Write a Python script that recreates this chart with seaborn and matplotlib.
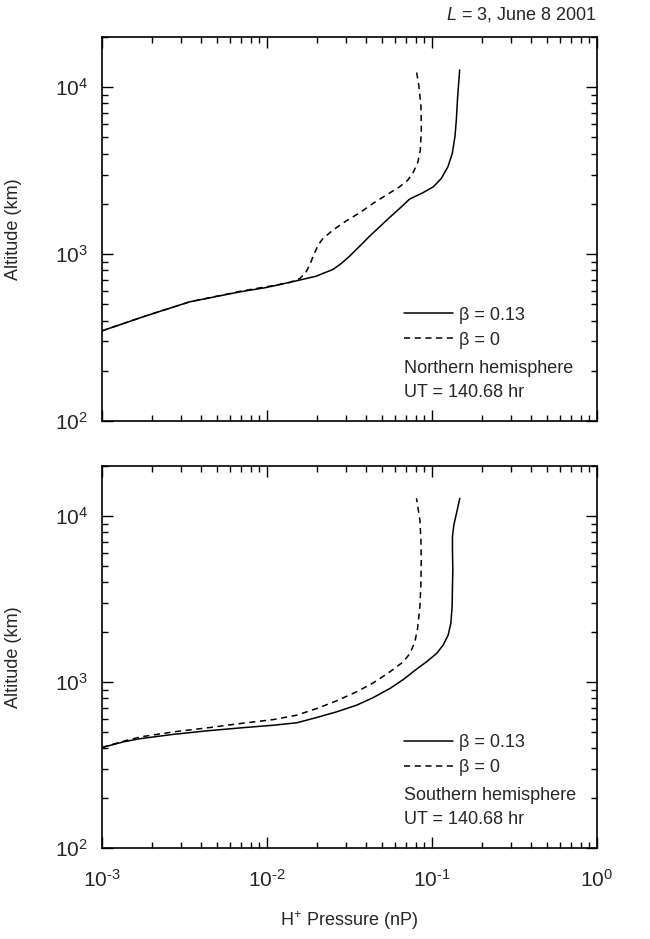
import matplotlib
matplotlib.use("Agg")
import matplotlib.pyplot as plt
import matplotlib.ticker as mticker
import numpy as np
import seaborn as sns
import pandas as pd

# Northern hemisphere (top panel)
north_p_beta013 = [0.00100, 0.00177, 0.00340, 0.00683, 0.00990, 0.01507, 0.0199, 0.0218, 0.0251,
                   0.0282, 0.0317, 0.0365, 0.0419, 0.0482, 0.0554, 0.0637, 0.0732, 0.0882,
                   0.102, 0.114, 0.125, 0.1328, 0.1378, 0.1405, 0.1431, 0.1472]
north_alt_beta013 = [347, 421, 518, 594, 631, 692, 738, 766, 809,
                     879, 973, 1117, 1282, 1459, 1660, 1879, 2138, 2334,
                     2535, 2844, 3342, 4018, 5058, 6368, 8790, 12700]
north_p_beta0 = [0.00100, 0.00177, 0.00340, 0.00683, 0.00990, 0.0114, 0.0137, 0.0158, 0.01715,
                 0.01814, 0.0190, 0.0204, 0.02185, 0.0251, 0.0303, 0.0365, 0.0439, 0.0529,
                 0.0637, 0.0715, 0.0774, 0.0823, 0.0850, 0.0862, 0.0858, 0.0834, 0.0803]
north_alt_beta0 = [347, 421, 518, 598, 638, 652, 676, 714, 773,
                   859, 964, 1132, 1242, 1393, 1585, 1770, 2014, 2259,
                   2535, 2780, 3119, 3581, 4207, 5546, 7656, 10090, 12700]

# Southern hemisphere (bottom panel)
south_p_beta013 = [0.00100, 0.00135, 0.00171, 0.00272, 0.00432, 0.00688, 0.01094, 0.01514, 0.0200,
                   0.02643, 0.03494, 0.0441, 0.0556, 0.0670, 0.0806, 0.0927, 0.1066, 0.1169,
                   0.1253, 0.1301, 0.1325, 0.1331, 0.1338, 0.1331, 0.1331, 0.1357, 0.1408, 0.1475]
south_alt_beta013 = [403, 436, 456, 484, 508, 529, 549, 568, 611,
                     661, 725, 806, 914, 1035, 1195, 1323, 1485, 1668,
                     1916, 2254, 2840, 3749, 4726, 6237, 7500, 8827, 10380, 12780]
south_p_beta0 = [0.00100, 0.00135, 0.00171, 0.00272, 0.00432, 0.00688, 0.01094, 0.01514, 0.0200,
                 0.02643, 0.03494, 0.0441, 0.0556, 0.0670, 0.0735, 0.0788, 0.0818, 0.0845,
                 0.0857, 0.0861, 0.0857, 0.0845, 0.0806]
south_alt_beta0 = [403, 440, 467, 501, 529, 562, 594, 631, 692,
                   770, 873, 988, 1152, 1323, 1485, 1747, 2102, 2840,
                   3926, 5429, 7167, 9460, 12780]

labels = ["\u03b2 = 0.13", "\u03b2 = 0"]
hemispheres = ["Northern hemisphere", "Southern hemisphere"]
ut_label = "UT = 140.68 hr"

sns.set_theme(style="ticks")
plt.rcParams["font.family"] = ["Liberation Sans", "DejaVu Sans"]
plt.rcParams["mathtext.fontset"] = "custom"
plt.rcParams["mathtext.rm"] = "Liberation Sans"
plt.rcParams["mathtext.it"] = "Liberation Sans:italic"
plt.rcParams["axes.unicode_minus"] = False


# powers of ten with a short hyphen in the exponent, like the original
def pow10(v, pos):
    e = int(round(np.log10(v)))
    return "10$^{\\text{%d}}$" % e


fig = plt.figure(figsize=(6.5, 9.39), dpi=100)
ax_top = fig.add_axes([0.1569, 0.5516, 0.7615, 0.409])
ax_bot = fig.add_axes([0.1569, 0.0969, 0.7615, 0.4068])

panels = [
    (ax_top, north_p_beta013, north_alt_beta013, north_p_beta0, north_alt_beta0, hemispheres[0]),
    (ax_bot, south_p_beta013, south_alt_beta013, south_p_beta0, south_alt_beta0, hemispheres[1]),
]

for ax, p1, a1, p0, a0, hemi in panels:
    df1 = pd.DataFrame({"p": p1, "alt": a1})
    df0 = pd.DataFrame({"p": p0, "alt": a0})
    sns.lineplot(data=df1, x="p", y="alt", sort=False, estimator=None, ax=ax,
                 color="black", lw=1.1, label=labels[0])
    sns.lineplot(data=df0, x="p", y="alt", sort=False, estimator=None, ax=ax,
                 color="black", lw=1.1, linestyle=(0, (4, 3)), label=labels[1])
    ax.set_xscale("log")
    ax.set_yscale("log")
    ax.set_xlim(1e-3, 1)
    ax.set_ylim(100, 2e4)
    ax.xaxis.set_major_locator(mticker.LogLocator(base=10, numticks=10))
    ax.xaxis.set_minor_locator(mticker.LogLocator(base=10, subs=range(2, 10), numticks=20))
    ax.yaxis.set_major_locator(mticker.LogLocator(base=10, numticks=10))
    ax.yaxis.set_minor_locator(mticker.LogLocator(base=10, subs=range(2, 10), numticks=20))
    ax.xaxis.set_major_formatter(mticker.FuncFormatter(pow10))
    ax.yaxis.set_major_formatter(mticker.FuncFormatter(pow10))
    ax.xaxis.set_minor_formatter(mticker.NullFormatter())
    ax.yaxis.set_minor_formatter(mticker.NullFormatter())
    ax.tick_params(which="both", direction="in", top=True, right=True, width=1.0, color="black")
    ax.tick_params(which="major", length=8, labelsize=15)
    ax.tick_params(axis="x", which="major", pad=15)
    ax.tick_params(axis="y", which="major", pad=10)
    ax.tick_params(which="minor", length=4)
    for s in ax.spines.values():
        s.set_linewidth(1.2)
        s.set_color("black")
    ax.set_ylabel("Altitude (km)", fontsize=13)
    ax.yaxis.set_label_coords(-0.162, 0.5)
    ax.set_xlabel("")
    ax.legend(loc="upper left", bbox_to_anchor=(0.61, 0.298), frameon=False,
              fontsize=13, handlelength=2.7, handletextpad=0.35, labelspacing=0.45,
              borderaxespad=0, borderpad=0)
    ax.text(0.611, 0.138, hemi, transform=ax.transAxes, fontsize=13, va="center", ha="left")
    ax.text(0.611, 0.075, ut_label, transform=ax.transAxes, fontsize=13, va="center", ha="left")

ax_top.tick_params(axis="x", which="both", labelbottom=False)
ax_bot.set_xlabel("H$^{+}$ Pressure (nP)", fontsize=13)
ax_bot.xaxis.set_label_coords(0.5, -0.16)

fig.text(0.918, 1 - 15 / 939, "$\\mathit{L}$ = 3, June 8 2001", ha="right", va="center", fontsize=13)

fig.savefig("out.png", dpi=100)
